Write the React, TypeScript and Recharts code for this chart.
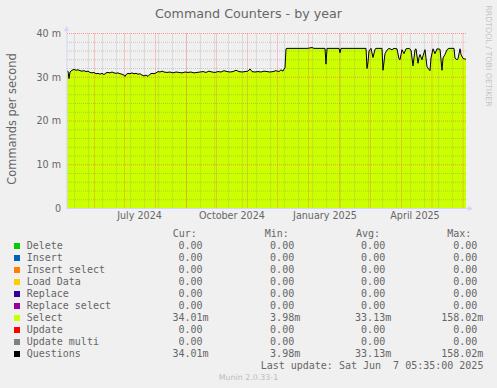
import React from 'react'
import { ComposedChart, Area, Line, XAxis, YAxis, ReferenceLine } from 'recharts'

// x = days since 5 May 2024 (the plot is one pixel per day), y = commands per second in milli
const days = [
  0, 1, 2, 3, 5, 7, 9, 11, 13, 15, 17, 19, 21, 23, 25, 27, 29, 31, 33, 35, 37, 39, 41, 43, 45, 47, 49,
  51, 53, 55, 57, 58, 59, 61, 63, 65, 67, 69, 71, 73, 75, 77, 79, 81, 83, 85, 87, 89, 91, 93, 95, 97,
  100, 103, 106, 109, 112, 115, 118, 121, 124, 127, 130, 133, 136, 139, 142, 145, 148, 151, 154, 157,
  160, 163, 166, 169, 172, 175, 178, 181, 183, 185, 188, 191, 194, 197, 200, 203, 206, 209, 212, 214,
  216, 217, 218, 219, 220, 221, 230, 240, 243, 245, 247, 258, 259, 260, 272, 273, 274, 299, 300, 301,
  302, 304, 306, 308, 309, 315, 316, 318, 320, 322, 325, 327, 330, 332, 333, 335, 337, 339, 342, 344,
  346, 348, 349, 351, 352, 353, 355, 356, 358, 360, 363, 364, 366, 368, 370, 373, 375, 376, 378, 380,
  382, 387, 388, 390, 391, 393, 394, 396, 399,
]
const selectRate = [
  31.4, 31.4, 29.7, 31.2, 31.6, 31.8, 31.6, 31.7, 31.5, 31.4, 31.5, 31.3, 31.4, 31.1, 31.0, 31.1, 30.8,
  30.9, 30.7, 30.9, 30.6, 31.0, 31.1, 31.0, 31.2, 31.0, 30.9, 31.0, 30.8, 30.7, 30.5, 30.2, 30.6, 30.9,
  30.8, 31.0, 30.8, 30.9, 30.7, 30.8, 30.5, 30.3, 30.5, 30.2, 30.7, 30.9, 30.8, 31.0, 31.3, 31.2, 31.4,
  31.2, 31.1, 31.2, 31.0, 31.2, 31.1, 31.0, 31.2, 31.1, 31.2, 31.0, 31.1, 31.2, 31.3, 31.1, 31.4, 31.2,
  31.1, 31.3, 31.2, 31.5, 31.3, 31.2, 31.3, 31.6, 31.3, 31.2, 31.3, 31.4, 31.9, 31.3, 31.2, 31.3, 31.2,
  31.4, 31.3, 31.2, 31.3, 31.5, 31.3, 31.7, 31.4, 31.9, 32.1, 36.5, 36.6, 36.6, 36.6, 36.6, 36.7, 36.8,
  36.6, 36.6, 33.0, 36.6, 36.6, 35.6, 36.6, 36.6, 32.0, 33.5, 36.0, 36.6, 34.5, 36.4, 36.6, 36.6, 31.6,
  35.4, 36.2, 36.6, 36.3, 36.6, 36.5, 34.2, 34.0, 36.3, 35.4, 36.5, 36.6, 36.2, 32.6, 36.3, 36.5, 33.2,
  34.5, 35.2, 34.0, 34.9, 36.3, 32.4, 31.5, 34.4, 36.5, 35.4, 36.5, 36.4, 31.6, 34.4, 35.2, 36.3, 36.6,
  36.6, 34.4, 34.0, 34.2, 36.5, 35.2, 34.3, 34.1,
]

const monthLineDays = [27.5, 57.5, 88.5, 119.5, 149.5, 180.5, 210.5, 241.5, 272.5, 303.5, 334.5, 365, 396]
const weekLineDays = [
  7.5, 21.5, 35.5, 49.5, 63.5, 77.5, 91.5, 105.5, 119.5, 133.5, 147.5, 161.5, 175.5, 189.5, 203.5,
  217.5, 231.5, 245.5, 259.5, 273.5, 287.5, 301.5, 315.5, 329.5, 343.5, 357.5, 371.5, 385.5,
]
const monthLabelDays = [72.5, 165, 258, 348]
const monthLabels = ['July 2024', 'October 2024', 'January 2025', 'April 2025']
const majorRates = [0, 10, 20, 30, 40]
const minorRates = [2, 4, 6, 8, 12, 14, 16, 18, 22, 24, 26, 28, 32, 34, 36, 38]

const legendNames = [
  'Delete', 'Insert', 'Insert select', 'Load Data', 'Replace', 'Replace select', 'Select', 'Update',
  'Update multi', 'Questions',
]
const legendColors = [
  '#00CC00', '#0066B3', '#FF8000', '#FFCC00', '#330099', '#990099', '#CCFF00', '#FF0000', '#808080', '#000000',
]
const curValues = ['0.00', '0.00', '0.00', '0.00', '0.00', '0.00', '34.01m', '0.00', '0.00', '34.01m']
const minValues = ['0.00', '0.00', '0.00', '0.00', '0.00', '0.00', '3.98m', '0.00', '0.00', '3.98m']
const avgValues = ['0.00', '0.00', '0.00', '0.00', '0.00', '0.00', '33.13m', '0.00', '0.00', '33.13m']
const maxValues = ['0.00', '0.00', '0.00', '0.00', '0.00', '0.00', '158.02m', '0.00', '0.00', '158.02m']

const rows = days.map((d, i) => ({ day: d, select: selectRate[i], questions: selectRate[i] }))

const FONT = '#666666'
const SANS = "'DejaVu Sans', sans-serif"
const MONO = "'DejaVu Sans Mono', monospace"
const GRID = 'rgba(128,128,128,0.38)'
const MGRID = 'rgba(255,80,80,0.55)'

const columns = [
  { head: 'Cur:', headX: 172.7, right: 208.5, values: curValues },
  { head: 'Min:', headX: 264.7, right: 300.2, values: minValues },
  { head: 'Avg:', headX: 356, right: 391.2, values: avgValues },
  { head: 'Max:', headX: 447.3, right: 483.4, values: maxValues },
]

const padValue = (v: string) => (v.endsWith('m') ? v : v + ' ')

function LegendTable() {
  const rowTop = (i: number) => 239.5 + i * 12
  const cell: React.CSSProperties = {
    position: 'absolute',
    fontFamily: MONO,
    fontSize: 10,
    lineHeight: '12px',
    color: FONT,
    whiteSpace: 'pre',
  }
  return (
    <>
      {columns.map((c) => (
        <div key={c.head} style={{ ...cell, left: c.headX, top: 227.5 }}>
          {c.head}
        </div>
      ))}
      {legendNames.map((name, i) => (
        <React.Fragment key={name}>
          <div
            style={{
              position: 'absolute',
              left: 14,
              top: rowTop(i) + 3,
              width: 6,
              height: 6,
              background: legendColors[i],
            }}
          />
          <div style={{ ...cell, left: 26.7, top: rowTop(i) }}>{name}</div>
          {columns.map((c) => (
            <div key={c.head} style={{ ...cell, right: 497 - c.right, top: rowTop(i), textAlign: 'right' }}>
              {padValue(c.values[i])}
            </div>
          ))}
        </React.Fragment>
      ))}
      <div style={{ ...cell, right: 497 - 483.4, top: 359.5, textAlign: 'right' }}>
        Last update: Sat Jun  7 05:35:00 2025
      </div>
    </>
  )
}

export default function App() {
  return (
    <div
      style={{
        position: 'absolute',
        left: 0,
        top: 0,
        width: 497,
        height: 388,
        background: '#F0F0F0',
        overflow: 'hidden',
      }}
    >
      <div style={{ position: 'absolute', left: 0, top: 0 }}>
        <ComposedChart
          width={497}
          height={388}
          data={rows}
          margin={{ top: 33.5, right: 31, bottom: 159.5, left: 7 }}
        >
          <XAxis
            dataKey="day"
            type="number"
            domain={[0, 399]}
            ticks={monthLabelDays}
            interval={0}
            tickFormatter={(v: number) => monthLabels[monthLabelDays.indexOf(v)] ?? ''}
            axisLine={{ stroke: '#CFD6F8' }}
            tickLine={false}
            tickSize={0}
            tickMargin={4}
            height={20}
            tick={{ fontSize: 9.6, fill: FONT, fontFamily: SANS }}
          />
          <YAxis
            type="number"
            domain={[0, 40]}
            ticks={majorRates}
            interval={0}
            width={60}
            tickFormatter={(v: number) => (v === 0 ? '0' : `${v} m`)}
            axisLine={{ stroke: '#CFD6F8' }}
            tickLine={false}
            tickSize={0}
            tickMargin={6}
            tick={{ fontSize: 9.6, fill: FONT, fontFamily: SANS }}
          />
          <Area
            dataKey="select"
            type="linear"
            fill="#CCFF00"
            fillOpacity={1}
            stroke="none"
            isAnimationActive={false}
          />
          {minorRates.map((v) => (
            <ReferenceLine key={`h${v}`} y={v} stroke={GRID} strokeDasharray="1 1" zIndex={150} />
          ))}
          {weekLineDays.map((d) => (
            <ReferenceLine key={`w${d}`} x={d} stroke={GRID} strokeDasharray="1 1" zIndex={150} />
          ))}
          {majorRates.filter((v) => v > 0).map((v) => (
            <ReferenceLine key={`H${v}`} y={v} stroke={MGRID} strokeDasharray="1 1" zIndex={160} />
          ))}
          {monthLineDays.map((d) => (
            <ReferenceLine key={`m${d}`} x={d} stroke={MGRID} strokeDasharray="1 1" zIndex={160} />
          ))}
          <Line
            dataKey="questions"
            type="linear"
            stroke="#000000"
            strokeWidth={1}
            dot={false}
            isAnimationActive={false}
            zIndex={400}
          />
        </ComposedChart>
      </div>

      <svg
        width={497}
        height={388}
        style={{ position: 'absolute', left: 0, top: 0, pointerEvents: 'none' }}
      >
        <text x={248.5} y={18} textAnchor="middle" fontFamily={SANS} fontSize={12.7} fill={FONT}>
          Command Counters - by year
        </text>
        <text
          transform="translate(15.5,119) rotate(-90)"
          textAnchor="middle"
          fontFamily={SANS}
          fontSize={11.4}
          fill={FONT}
        >
          Commands per second
        </text>
        <text
          transform="translate(485.5,56) rotate(90)"
          textAnchor="middle"
          fontFamily={SANS}
          fontSize={7.9}
          fill="#C4C4C4"
        >
          RRDTOOL / TOBI OETIKER
        </text>
        <line x1={66.5} y1={33} x2={66.5} y2={29} stroke="#CFD6F8" />
        <polygon points="66.5,26 64,31 69,31" fill="#CFD6F8" />
        <line x1={466} y1={208.5} x2={469} y2={208.5} stroke="#CFD6F8" />
        <polygon points="473,208.5 468,206 468,211" fill="#CFD6F8" />
        <text x={248.5} y={379.5} textAnchor="middle" fontFamily={SANS} fontSize={7.9} fill="#BBBBBB">
          Munin 2.0.33-1
        </text>
      </svg>

      <LegendTable />
    </div>
  )
}
